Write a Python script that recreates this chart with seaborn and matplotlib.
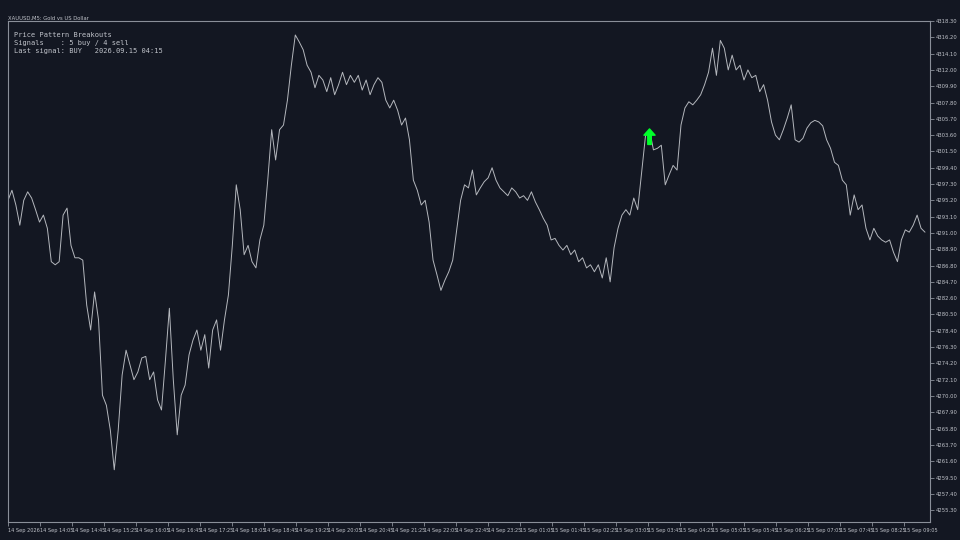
import numpy as np
import matplotlib
matplotlib.use("Agg")
import matplotlib.pyplot as plt
import seaborn as sns

# --- data (5-min closes) ---
close = [
    4295.2, 4296.5, 4294.6, 4292.0, 4295.2, 4296.3, 4295.5, 4294.0, 4292.4, 4293.3,
    4291.6, 4287.3, 4286.9, 4287.3, 4293.3, 4294.2, 4289.4, 4287.8, 4287.8, 4287.5,
    4281.7, 4278.5, 4283.4, 4279.8, 4270.1, 4268.8, 4265.6, 4260.5, 4265.6, 4272.7,
    4275.9, 4274.0, 4272.1, 4273.1, 4274.9, 4275.1, 4272.1, 4273.1, 4269.5, 4268.2,
    4274.6, 4281.3, 4272.1, 4265.0, 4270.1, 4271.4, 4275.3, 4277.2, 4278.5, 4275.9,
    4277.9, 4273.6, 4278.5, 4279.8, 4275.9, 4279.8, 4283.0, 4289.4, 4297.2, 4294.0,
    4288.2, 4289.4, 4287.3, 4286.5, 4290.1, 4292.0, 4297.8, 4304.3, 4300.4, 4304.3,
    4304.9, 4308.1, 4312.6, 4316.5, 4315.6, 4314.6, 4312.6, 4311.7, 4309.7, 4311.3,
    4310.7, 4309.2, 4311.0, 4308.8, 4310.1, 4311.7, 4310.1, 4311.3, 4310.4, 4311.3,
    4309.4, 4310.7, 4308.8, 4310.1, 4311.0, 4310.4, 4308.1, 4307.1, 4308.1, 4306.8,
    4304.9, 4305.8, 4303.0, 4297.8, 4296.5, 4294.6, 4295.2, 4292.4, 4287.5, 4285.6,
    4283.6, 4284.9, 4286.0, 4287.5, 4291.4, 4295.2, 4297.2, 4296.8, 4299.1, 4295.9,
    4296.8, 4297.6, 4298.1, 4299.4, 4297.8, 4296.8, 4296.3, 4295.8, 4296.8, 4296.3,
    4295.5, 4295.8, 4295.2, 4296.3, 4295.0, 4294.0, 4292.9, 4292.0, 4290.1, 4290.3,
    4289.4, 4288.8, 4289.4, 4288.2, 4288.8, 4287.3, 4287.8, 4286.5, 4286.9, 4286.0,
    4286.9, 4285.2, 4287.8, 4284.7, 4289.1, 4291.6, 4293.3, 4294.0, 4293.3, 4295.5,
    4294.0, 4298.8, 4303.6, 4304.3, 4301.7, 4301.9, 4302.3, 4297.2, 4298.5, 4299.7,
    4299.1, 4304.9, 4307.1, 4307.9, 4307.5, 4308.1, 4308.8, 4310.1, 4311.7, 4314.8,
    4311.3, 4315.8, 4314.8, 4312.0, 4313.9, 4312.0, 4312.6, 4310.7, 4312.0, 4311.0,
    4311.3, 4309.2, 4310.1, 4308.1, 4305.3, 4303.6, 4303.0, 4304.3, 4305.8, 4307.5,
    4303.0, 4302.7, 4303.2, 4304.5, 4305.2, 4305.5, 4305.3, 4304.8, 4303.0, 4301.9,
    4300.1, 4299.7, 4297.8, 4297.2, 4293.3, 4295.9, 4294.0, 4294.6, 4291.6, 4290.1,
    4291.6, 4290.6, 4290.1, 4289.8, 4290.1, 4288.5, 4287.3, 4290.1, 4291.4, 4291.1,
    4292.0, 4293.3, 4291.6, 4291.1,
]

time_labels = [
    "14 Sep 2026", "14 Sep 14:05", "14 Sep 14:45", "14 Sep 15:25", "14 Sep 16:05",
    "14 Sep 16:45", "14 Sep 17:25", "14 Sep 18:05", "14 Sep 18:45", "14 Sep 19:25",
    "14 Sep 20:05", "14 Sep 20:45", "14 Sep 21:25", "14 Sep 22:05", "14 Sep 22:45",
    "14 Sep 23:25", "15 Sep 01:05", "15 Sep 01:45", "15 Sep 02:25", "15 Sep 03:05",
    "15 Sep 03:45", "15 Sep 04:25", "15 Sep 05:05", "15 Sep 05:45", "15 Sep 06:25",
    "15 Sep 07:05", "15 Sep 07:45", "15 Sep 08:25", "15 Sep 09:05",
]

price_ticks = [4318.30 - 2.10 * k for k in range(31)]

buy_signal_price = 4302.6   # arrow base, under the signal bar

# --- style ---
bg = "#131722"
fg = "#c0c3ca"
sns.set_theme(style="dark")
plt.rcParams["font.family"] = ["DejaVu Sans"]

fig = plt.figure(figsize=(9.6, 5.4), dpi=100, facecolor=bg)
ax = fig.add_axes([8 / 960, 18 / 540, 922 / 960, 501 / 540], facecolor=bg)

x = np.arange(len(close))
sns.lineplot(x=x, y=close, ax=ax, color="#b4b7bd", linewidth=0.7)

# buy arrow on the local top of the breakout
sig = 155 + int(np.argmax(close[155:168]))
ax.annotate("", xy=(sig, buy_signal_price + 1.8), xytext=(sig, buy_signal_price - 0.2),
            arrowprops=dict(facecolor="#00ff2a", edgecolor="#00ff2a",
                            width=2.5, headwidth=8, headlength=4.5))

xmax = (len(close) - 1) * 922 / 917
ax.set_xlim(0, xmax)
ax.set_ylim(4253.77, 4318.3)
ax.set_xticks(np.arange(len(time_labels)) * 32 * xmax / 922)
ax.set_xticklabels(time_labels, fontsize=3.6, color=fg, ha="left")
ax.set_yticks(price_ticks)
ax.set_yticklabels([f"{p:.2f}" for p in price_ticks], fontsize=3.8, color=fg)
ax.yaxis.tick_right()
ax.tick_params(axis="both", length=3, width=0.6, color="#8a8f99", pad=1.5,
               bottom=True, right=True, left=False)
ax.grid(False)
for s in ax.spines.values():
    s.set_color("#8a8f99")
    s.set_linewidth(0.8)

ax.text(0.0, 1.001, "XAUUSD,M5: Gold vs US Dollar", transform=ax.transAxes,
        fontsize=3.8, color=fg, va="bottom", ha="left")
ax.text(0.006, 0.978, "Price Pattern Breakouts\nSignals    : 5 buy / 4 sell\nLast signal: BUY   2026.09.15 04:15",
        transform=ax.transAxes, fontsize=5, color=fg, va="top", ha="left",
        family="DejaVu Sans Mono", linespacing=1.35)

fig.savefig("out.png", dpi=100, facecolor=bg)
